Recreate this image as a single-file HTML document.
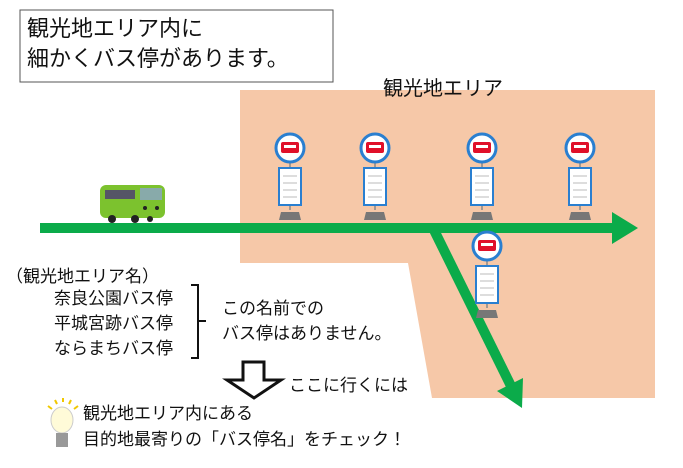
<!DOCTYPE html>
<html><head><meta charset="utf-8"><style>
body{margin:0;width:683px;height:468px;background:#fff;position:relative;overflow:hidden;font-family:"Liberation Sans","Noto Sans CJK JP",sans-serif;color:#111}
.t{position:absolute;white-space:nowrap}
</style></head><body>
<svg width="683" height="468" style="position:absolute;left:0;top:0">
<defs>
<g id="s">
<line x1="0" y1="10" x2="0" y2="62" stroke="#888" stroke-width="1.5"/>
<circle cx="0" cy="0" r="14" fill="#fff" stroke="#2a7fd0" stroke-width="3"/>
<rect x="-9" y="-6" width="18" height="11" rx="2" fill="#e0102a"/>
<rect x="-6" y="-3" width="12" height="3" fill="#fff"/>
<rect x="-11" y="20" width="22" height="37" fill="#fff" stroke="#2a7fd0" stroke-width="2"/>
<g stroke="#bbb"><line x1="-7" y1="28" x2="7" y2="28"/><line x1="-7" y1="35" x2="7" y2="35"/><line x1="-7" y1="42" x2="7" y2="42"/><line x1="-7" y1="49" x2="7" y2="49"/></g>
<polygon points="-9,64 9,64 11,72 -11,72" fill="#777"/>
</g>
</defs>
<polygon points="240,90 655,90 655,398 432,398 408,263 240,263" fill="#f6c8a8"/>
<rect x="20" y="10" width="313" height="72" fill="#fff" stroke="#555" stroke-width="1"/>
<line x1="40" y1="228" x2="615" y2="228" stroke="#0bab4a" stroke-width="10"/>
<polygon points="612,212 638,228 612,244" fill="#0bab4a"/>
<line x1="433" y1="228" x2="511" y2="386" stroke="#0bab4a" stroke-width="10"/>
<polygon points="523,378 497,391 522,408" fill="#0bab4a"/>
<use href="#s" x="290" y="148"/>
<use href="#s" x="375" y="148"/>
<use href="#s" x="482" y="148"/>
<use href="#s" x="580" y="148"/>
<use href="#s" x="487" y="246"/>
<rect x="100" y="185" width="65" height="33" rx="6" fill="#7cc22e"/>
<rect x="105" y="190" width="30" height="9" fill="#556"/>
<rect x="140" y="188" width="22" height="12" fill="#8aa"/>
<circle cx="112" cy="219" r="4" fill="#222"/><circle cx="135" cy="219" r="4" fill="#222"/><circle cx="150" cy="219" r="3" fill="#222"/>
<circle cx="145" cy="208" r="2" fill="#222"/><circle cx="157" cy="208" r="2" fill="#222"/>
<path d="M191,285 H198 V358 H191 M198,321 H206" fill="none" stroke="#111" stroke-width="2"/>
<polygon points="243,362 264,362 264,380 281,380 254,398 227,380 243,380" fill="#fff" stroke="#111" stroke-width="3"/>
<ellipse cx="62" cy="420" rx="11" ry="13" fill="#fffbd8" stroke="#ccc"/>
<rect x="56" y="433" width="12" height="14" fill="#999"/>
<g stroke="#f0c800" stroke-width="2"><line x1="48" y1="406" x2="52" y2="409"/><line x1="55" y1="400" x2="57" y2="404"/><line x1="63" y1="398" x2="63" y2="402"/><line x1="71" y1="400" x2="69" y2="404"/><line x1="78" y1="406" x2="74" y2="409"/></g>
</svg>
<div class="t" style="left:27px;top:14px;font-size:22px;line-height:30px">観光地エリア内に<br>細かくバス停があります。</div>
<div class="t" style="left:383px;top:72px;font-size:20px">観光地エリア</div>
<div class="t" style="left:6px;top:262px;font-size:17px">（観光地エリア名）</div>
<div class="t" style="left:54px;top:286px;font-size:17px;line-height:25px">奈良公園バス停<br>平城宮跡バス停<br>ならまちバス停</div>
<div class="t" style="left:222px;top:296px;font-size:17px;line-height:25px">この名前での<br>バス停はありません。</div>
<div class="t" style="left:289px;top:371px;font-size:17px">ここに行くには</div>
<div class="t" style="left:83px;top:401px;font-size:17px;line-height:26px">観光地エリア内にある<br>目的地最寄りの「バス停名」をチェック！</div>
</body></html>
